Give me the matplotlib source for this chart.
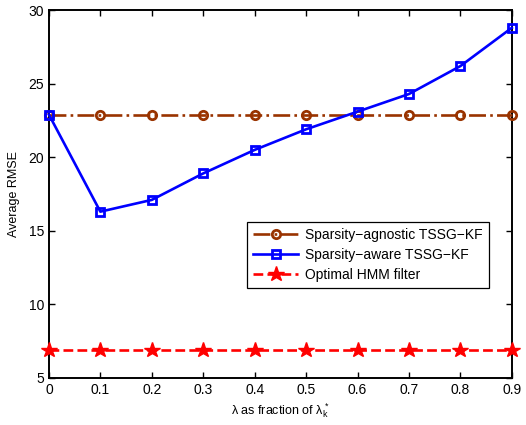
import numpy as np
import matplotlib
matplotlib.use("Agg")
import matplotlib.pyplot as plt

plt.rcParams['font.family'] = ['Liberation Sans', 'DejaVu Sans']
plt.rcParams['mathtext.fontset'] = 'custom'
plt.rcParams['mathtext.rm'] = 'Liberation Sans'
plt.rcParams['mathtext.it'] = 'Liberation Sans'

# data
lam = [0, 0.1, 0.2, 0.3, 0.4, 0.5, 0.6, 0.7, 0.8, 0.9]
agnostic = [22.9, 22.9, 22.9, 22.9, 22.9, 22.9, 22.9, 22.9, 22.9, 22.9]
aware = [22.9, 16.3, 17.1, 18.9, 20.5, 21.9, 23.1, 24.3, 26.2, 28.8]
hmm = [6.9, 6.9, 6.9, 6.9, 6.9, 6.9, 6.9, 6.9, 6.9, 6.9]
labels = ['Sparsity\u2212agnostic TSSG\u2212KF', 'Sparsity\u2212aware TSSG\u2212KF', 'Optimal HMM filter']

fig = plt.figure(figsize=(5.26, 4.25), dpi=100)
ax = fig.add_axes([0.093, 0.111, 0.880, 0.865])

ax.plot(lam, agnostic, '-.', color='#993300', lw=1.9, marker='o', ms=6,
        mfc='none', mew=2.0, label=labels[0], clip_on=False, zorder=3)
ax.plot(lam, aware, '-', color='#0000FF', lw=1.9, marker='s', ms=5.5,
        mfc='none', mew=2.0, label=labels[1], clip_on=False, zorder=4)
ax.plot(lam, hmm, '--', color='#FF0000', lw=1.9, marker='*', ms=11.5,
        mfc='#FF0000', mec='#FF0000', label=labels[2], clip_on=False, zorder=3)

ax.set_xlim(0, 0.9)
ax.set_ylim(5, 30)
ax.set_xticks(lam)
ax.set_xticklabels(['0'] + ['%.1f' % v for v in lam[1:]])
ax.set_yticks([5, 10, 15, 20, 25, 30])
ax.tick_params(direction='in', top=True, right=True, labelsize=10, length=4, width=1.0)
for s in ax.spines.values():
    s.set_linewidth(1.4)

ax.set_xlabel(r'$\lambda$ as fraction of $\lambda_k^*$', fontsize=9, labelpad=3)
ax.set_ylabel('Average RMSE', fontsize=9, labelpad=6)

leg = ax.legend(loc='lower right', bbox_to_anchor=(0.95, 0.245), fontsize=10,
                fancybox=False, edgecolor='black', framealpha=1,
                borderaxespad=0, handlelength=3.2, labelspacing=0.42,
                borderpad=0.45, handletextpad=0.5)
leg.get_frame().set_linewidth(0.9)

fig.savefig('out.png', dpi=100)
